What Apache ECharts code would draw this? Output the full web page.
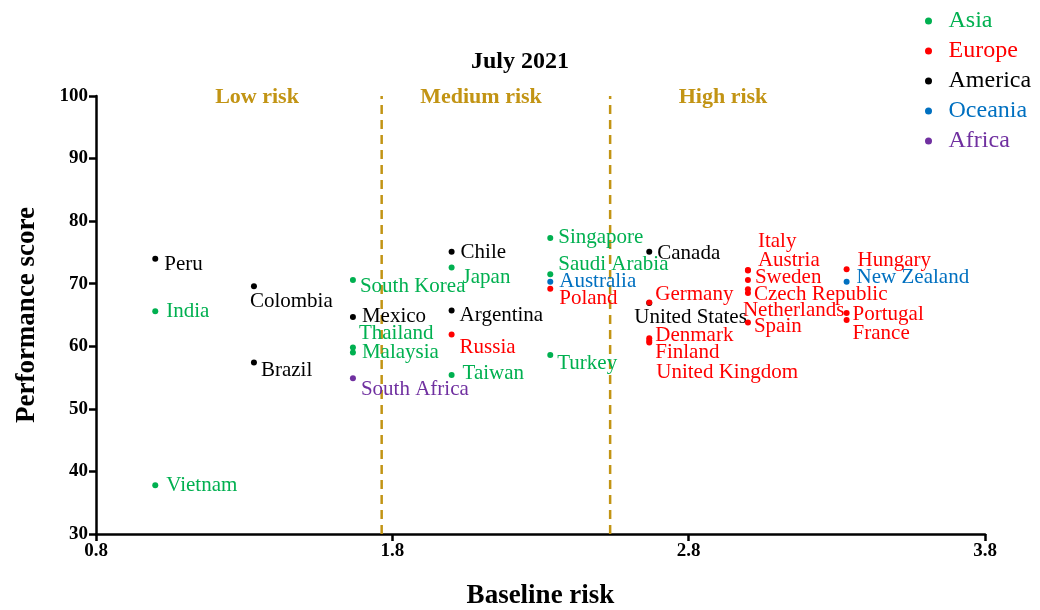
<!DOCTYPE html>
<html>
<head>
<meta charset="utf-8">
<script src="https://cdn.jsdelivr.net/npm/echarts@6/dist/echarts.min.js"></script>
<style>html,body{margin:0;padding:0;background:#fff;}#chart{width:1040px;height:610px;}</style>
</head>
<body>
<div id="chart"></div>
<script>
// ---- data: [country, baseline risk, performance score] ----
const asia = [
  ["India", 1.0, 65.6], ["Vietnam", 1.0, 37.8], ["South Korea", 1.667, 70.6],
  ["Thailand", 1.667, 59.8], ["Malaysia", 1.667, 59.0], ["Japan", 2.0, 72.6],
  ["Taiwan", 2.0, 55.4], ["Singapore", 2.333, 77.3], ["Saudi Arabia", 2.333, 71.5],
  ["Turkey", 2.333, 58.6]
];
const europe = [
  ["Russia", 2.0, 61.9], ["Poland", 2.333, 69.2], ["Germany", 2.667, 67.0],
  ["Denmark", 2.667, 61.3], ["Finland", 2.667, 60.6], ["United Kingdom", 2.667, 60.9],
  ["Italy", 3.0, 72.2], ["Austria", 3.0, 72.1], ["Sweden", 3.0, 70.6],
  ["Czech Republic", 3.0, 69.1], ["Netherlands", 3.0, 68.5], ["Spain", 3.0, 63.8],
  ["Hungary", 3.333, 72.3], ["Portugal", 3.333, 65.3], ["France", 3.333, 64.2]
];
const america = [
  ["Peru", 1.0, 74.0], ["Colombia", 1.333, 69.6], ["Brazil", 1.333, 57.4],
  ["Mexico", 1.667, 64.7], ["Chile", 2.0, 75.1], ["Argentina", 2.0, 65.7],
  ["Canada", 2.667, 75.1], ["United States", 2.667, 66.9]
];
const oceania = [["Australia", 2.333, 70.3], ["New Zealand", 3.333, 70.3]];
const africa = [["South Africa", 1.667, 54.9]];
const riskBounds = [1.764, 2.535];
const riskZones = ["Low risk", "Medium risk", "High risk"];
const yTicks = [30, 100, 10];
const xTicks = [0.8, 3.8, 1];

// ---- label placement (pixel offsets from the dot) ----
const labelOffset = {
  "Peru": [9, 6], "India": [11, 0], "Vietnam": [11, 0], "Colombia": [-4, 15],
  "Brazil": [7, 8], "South Korea": [7, 7], "Mexico": [9, 0], "Thailand": [6, -14],
  "Malaysia": [9, 0], "South Africa": [8, 11], "Chile": [9, 1], "Japan": [11, 10],
  "Argentina": [8, 5], "Russia": [8, 13], "Taiwan": [11, -2], "Singapore": [8, -1],
  "Saudi Arabia": [8, -10], "Australia": [9, 0], "Poland": [9, 10], "Turkey": [7, 8],
  "Canada": [8, 2], "Germany": [6, -8], "United States": [-15, 14], "Denmark": [6, -3],
  "Finland": [6, 10], "United Kingdom": [7, 32], "Italy": [10, -28], "Austria": [10, -10],
  "Sweden": [7, -2], "Czech Republic": [6, 5], "Netherlands": [-5, 17], "Spain": [6, 4],
  "Hungary": [11, -9], "New Zealand": [10, -4], "Portugal": [6, 1], "France": [6, 13]
};

const FONT = '"Liberation Serif", "Times New Roman", serif';
const GOLD = '#C29414';

function makeSeries(name, arr, color, z) {
  return {
    name: name, type: 'scatter', symbol: 'circle', symbolSize: 6, z: z,
    itemStyle: { color: color, opacity: 1 },
    data: arr.map(d => ({
      name: d[0], value: [d[1], d[2]],
      label: { offset: labelOffset[d[0]] || [8, 0] }
    })),
    label: {
      show: true, position: 'inside', align: 'left', verticalAlign: 'middle',
      formatter: p => p.name, color: color, opacity: 1, fontFamily: FONT, fontSize: 21
    },
    emphasis: { disabled: true }
  };
}

const series = [
  makeSeries('Asia', asia, '#00B050', 3),
  makeSeries('Europe', europe, '#FF0000', 4),
  makeSeries('America', america, '#000000', 2),
  makeSeries('Oceania', oceania, '#0070C0', 3),
  makeSeries('Africa', africa, '#7030A0', 3)
];
riskBounds.forEach(b => {
  series.push({
    type: 'line', data: [[b, yTicks[0]], [b, yTicks[1]]], symbol: 'none', silent: true,
    lineStyle: { color: GOLD, width: 2.5, type: [9, 6] }, z: 1
  });
});

const chart = echarts.init(document.getElementById('chart'), null, { renderer: 'canvas' });
const legendColors = ['#00B050', '#FF0000', '#000000', '#0070C0', '#7030A0'];
chart.setOption({
  animation: false,
  backgroundColor: '#fff',
  title: {
    text: 'July 2021', left: 466, top: 45,
    textStyle: { fontFamily: FONT, fontSize: 24, fontWeight: 'bold', color: '#000' }
  },
  legend: {
    orient: 'vertical', left: 920, top: 4, itemGap: 6,
    itemWidth: 30, itemHeight: 7, icon: 'circle',
    data: ['Asia', 'Europe', 'America', 'Oceania', 'Africa'].map((n, i) => ({
      name: n, textStyle: { color: legendColors[i] }, itemStyle: { color: legendColors[i], opacity: 1 }
    })),
    textStyle: { fontFamily: FONT, fontSize: 24 }
  },
  grid: { left: 96, right: 55, top: 96, bottom: 76, containLabel: false, outerBoundsMode: 'none' },
  xAxis: {
    type: 'value', min: xTicks[0], max: xTicks[1], interval: xTicks[2],
    name: 'Baseline risk', nameLocation: 'middle', nameGap: 49,
    nameTextStyle: { fontFamily: FONT, fontSize: 27, fontWeight: 'bold', color: '#000' },
    axisLine: { show: true, lineStyle: { color: '#000', width: 2.5 } },
    axisTick: { show: true, length: 7, lineStyle: { color: '#000', width: 2.5 } },
    axisLabel: { fontFamily: FONT, fontSize: 19, fontWeight: 'bold', color: '#000', margin: 8,
      formatter: v => v.toFixed(1) },
    splitLine: { show: false }
  },
  yAxis: {
    type: 'value', min: yTicks[0], max: yTicks[1], interval: yTicks[2],
    name: 'Performance score', nameLocation: 'middle', nameGap: 55, nameRotate: 90,
    nameTextStyle: { fontFamily: FONT, fontSize: 27, fontWeight: 'bold', color: '#000' },
    axisLine: { show: true, lineStyle: { color: '#000', width: 2.5 } },
    axisTick: { show: true, length: 7, lineStyle: { color: '#000', width: 2.5 } },
    axisLabel: { fontFamily: FONT, fontSize: 19, fontWeight: 'bold', color: '#000', margin: 8 },
    splitLine: { show: false }
  },
  graphic: [
    { type: 'text', x: 257, y: 97, style: { text: riskZones[0], fill: GOLD, font: 'bold 22px ' + FONT, textAlign: 'center', textVerticalAlign: 'middle' } },
    { type: 'text', x: 481, y: 97, style: { text: riskZones[1], fill: GOLD, font: 'bold 22px ' + FONT, textAlign: 'center', textVerticalAlign: 'middle' } },
    { type: 'text', x: 723, y: 97, style: { text: riskZones[2], fill: GOLD, font: 'bold 22px ' + FONT, textAlign: 'center', textVerticalAlign: 'middle' } }
  ],
  series: series
});
</script>
</body>
</html>
